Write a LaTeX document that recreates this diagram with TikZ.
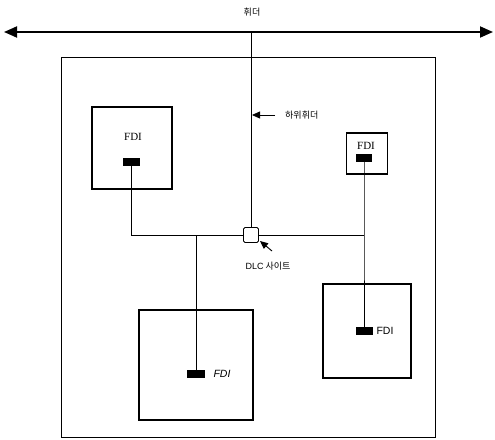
\documentclass[tikz,border=0pt]{standalone}
\usepackage{fontspec}
\setmainfont{Liberation Serif}
\newfontfamily\kr{Noto Sans CJK KR}
\newfontfamily\lsans{Liberation Sans}
\usetikzlibrary{arrows.meta}
\begin{document}
\begin{tikzpicture}[x=1pt,y=-1pt,
  box/.style={draw,line width=1.2pt},
  pad/.style={fill=black,minimum width=16pt,minimum height=8pt,inner sep=0pt},
  wire/.style={line width=0.8pt},
  lbl/.style={font=\kr\fontsize{9}{10}\selectfont,inner sep=0pt},
  fdi/.style={font=\fontsize{11}{12}\selectfont,inner sep=0pt}]
\useasboundingbox (0,0) rectangle (495,439);
% main feeder
\coordinate (fl) at (4,32);
\coordinate (fr) at (493,32);
\draw[line width=1.8pt,{Triangle[length=13pt,width=11pt]}-{Triangle[length=13pt,width=11pt]}] (fl) -- (fr);
\node[lbl] (feeder) at (252,12) {휘더};
% outer box
\node[box,line width=1pt,minimum width=374pt,minimum height=380pt,inner sep=0pt] (outer) at (248,247) {};
% DLC site
\node[draw,line width=0.8pt,rounded corners=1.5pt,minimum size=15pt,inner sep=0pt] (dlc) at (251,235) {};
\coordinate (ftap) at (251,32);
\draw[wire] (ftap) -- (dlc.north);
% sub-feeder label
\coordinate (sa) at (275,115);
\coordinate (sb) at (252,115);
\draw[line width=0.8pt,-{Triangle[length=8pt,width=7pt]}] (sa) -- (sb);
\node[lbl,anchor=west] (sub) at (285,115) {하위휘더};
% DLC label
\coordinate (da) at (272,251);
\coordinate (db) at (260,241);
\draw[line width=0.9pt,-{Triangle[length=8pt,width=7pt]}] (da) -- (db);
\node[lbl] (dlclbl) at (268,266) {{\lsans DLC} 사이트};
% boxes
\node[box,minimum width=80pt,minimum height=82pt,inner sep=0pt] (b1) at (132,148) {};
\node[fdi] (f1) at (133,137) {FDI};
\node[pad,minimum width=17pt] (p1) at (131,162) {};
\node[box,minimum width=41pt,minimum height=41pt,inner sep=0pt] (b2) at (367,153.5) {};
\node[fdi] (f2) at (366,146) {FDI};
\node[pad,minimum width=16pt,minimum height=8pt] (p2) at (364,158) {};
\node[box,minimum width=114pt,minimum height=110pt,inner sep=0pt] (b3) at (196,365) {};
\node[pad,minimum width=18pt] (p3) at (196,374) {};
\node[fdi,font=\lsans\itshape\fontsize{10.5}{11}\selectfont] (f3) at (222,374) {FDI};
\node[box,minimum width=88pt,minimum height=94pt,inner sep=0pt] (b4) at (367,331) {};
\node[pad,minimum width=17pt] (p4) at (364,331) {};
\node[fdi,font=\lsans\fontsize{10.5}{11}\selectfont] (f4) at (385,331) {FDI};
% wiring
\coordinate (j1) at (131,235);
\coordinate (j2) at (196,235);
\coordinate (j3) at (364,235);
\draw[wire] (p1.south) -- (j1) -- (dlc.west);
\draw[wire] (dlc.east) -- (j3);
\draw[wire] (p2.south) -- (j3) -- (p4.north);
\draw[wire] (j2) -- (p3.north);
\end{tikzpicture}
\end{document}
